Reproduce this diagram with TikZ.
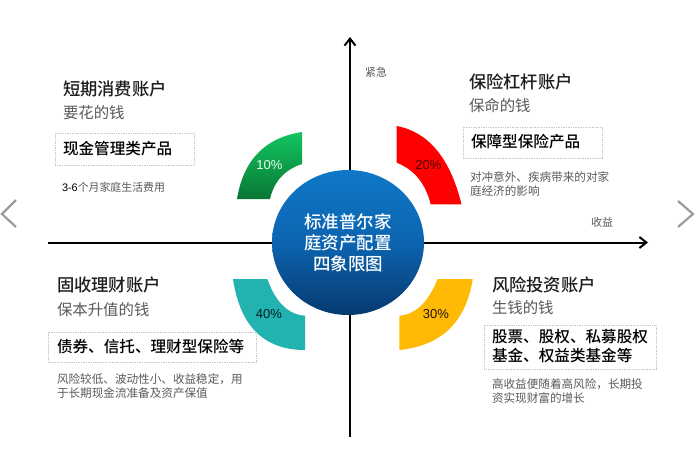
\documentclass[tikz,border=0pt]{standalone}
\usepackage{fontspec}
\setmainfont{Noto Sans CJK SC}
\newfontfamily\medf{Noto Sans CJK SC Medium}
\newfontfamily\latinf{Liberation Sans}
\usetikzlibrary{shapes.geometric,arrows.meta}
\newcommand{\fwcomma}{\char"FF0C\relax}
\definecolor{titlec}{HTML}{1E1E1E}
\definecolor{subc}{HTML}{595959}
\definecolor{smallc}{HTML}{5A5A5A}
\definecolor{boxc}{HTML}{C4C8CC}
\definecolor{chev}{HTML}{9A9AA2}
\tikzset{
  x=1pt,y=1pt,
  txt/.style={anchor=west,inner sep=0pt,outer sep=0pt},
  acct/.style={txt,text=titlec,font=\medf\fontsize{17.3}{20}\selectfont},
  subt/.style={txt,text=subc,font=\fontsize{15.4}{18}\selectfont},
  prod/.style={txt,text=black,font=\medf\fontsize{15.6}{19}\selectfont,align=left},
  note/.style={txt,text=smallc,font=\fontsize{11.6}{14}\selectfont,align=left},
  axlabel/.style={inner sep=0pt,text=smallc,font=\fontsize{11}{13}\selectfont},
  pct/.style={inner sep=0pt,font=\latinf\fontsize{13}{15}\selectfont},
  pbox/.style={draw=boxc,densely dotted,line width=.7pt,fill=white},
  axisl/.style={draw=black,line width=2pt,-{Straight Barb[length=7pt,width=11pt,line width=2pt]}},
  chevl/.style={draw=chev,line width=2.2pt}
}
\begin{document}
\begin{tikzpicture}
\useasboundingbox (0,-453) rectangle (700,0);
\fill[white] (0,-453) rectangle (700,0);
% axes
\coordinate (vs) at (350,-437);
\coordinate (ve) at (350,-37);
\coordinate (hs) at (48,-242.5);
\coordinate (he) at (648,-242.5);
\draw[axisl] (vs) -- (ve);
\draw[axisl] (hs) -- (he);
\node[axlabel] (urgent) at (376,-72) {紧急};
\node[axlabel] (income) at (602,-222) {收益};
% centre
\node[ellipse,minimum width=152pt,minimum height=145pt,inner sep=0pt,
      top color={rgb,255:red,14;green,120;blue,200},bottom color={rgb,255:red,6;green,58;blue,112},
      middle color={rgb,255:red,12;green,100;blue,176},
      text=white,align=center,font=\medf\fontsize{17.5}{21}\selectfont] (core) at (348,-242.5)
      {标准普尔家\\庭资产配置\\四象限图};
% sectors
\shade[top color={rgb,255:red,18;green,198;blue,96},bottom color={rgb,255:red,9;green,118;blue,52}]
  (237,-199) .. controls (243.3,-160) and (265,-137.7) .. (302,-132)
  -- (302,-164) .. controls (284.7,-169.7) and (274,-181.3) .. (270,-199) -- cycle;
\fill[red] (396.7,-126) .. controls (428.5,-132) and (450.1,-158.1) .. (461.5,-204.3)
  -- (430.7,-204.3) .. controls (425.5,-183.4) and (414.2,-169.6) .. (396.7,-162.7) -- cycle;
\fill[fill={rgb,255:red,34;green,178;blue,176}] (233,-279) .. controls (240.1,-326.3) and (264.1,-350) .. (305,-350)
  -- (305,-315.7) .. controls (288.2,-314.6) and (275.6,-302.3) .. (267.3,-279) -- cycle;
\fill[fill={rgb,255:red,255;green,186;blue,5}] (472.7,-279) .. controls (466,-322) and (441.5,-345.7) .. (399.3,-350)
  -- (399.3,-315.7) .. controls (415.4,-314.6) and (428.2,-302.3) .. (437.7,-279) -- cycle;
\node[pct,text=white!92!green] (p10) at (269.5,-165.5) {10\%};
\node[pct,text=black!70!red] (p20) at (428.5,-165) {20\%};
\node[pct,text=black!75!teal] (p40) at (269,-314.5) {40\%};
\node[pct,text=black!85!orange] (p30) at (436,-314.5) {30\%};
% top left
\node[acct] (a1) at (63,-89) {短期消费账户};
\node[subt] (s1) at (63,-113) {要花的钱};
\draw[pbox] (55,-133) rectangle (194,-165);
\node[prod] (b1) at (63,-149) {现金管理类产品};
\node[note,font=\fontsize{10.9}{14}\selectfont] (n1) at (62,-187) {\textcolor{black}{\latinf 3-6}个月家庭生活费用};
% top right
\node[acct] (a2) at (469,-82) {保险杠杆账户};
\node[subt] (s2) at (469,-106) {保命的钱};
\draw[pbox] (463,-127) rectangle (602,-158);
\node[prod] (b2) at (471,-142) {保障型保险产品};
\node[note] (n2) at (470,-184) {对冲意外、疾病带来的对家\\庭经济的影响};
% bottom left
\node[acct] (a3) at (57,-285) {固收理财账户};
\node[subt] (s3) at (57,-310) {保本升值的钱};
\draw[pbox] (48,-332) rectangle (256,-362);
\node[prod] (b3) at (57,-347) {债券、信托、理财型保险等};
\node[note] (n3) at (57,-386) {风险较低、波动性小、收益稳定\fwcomma 用\\于长期现金流准备及资产保值};
% bottom right
\node[acct] (a4) at (492,-285) {风险投资账户};
\node[subt] (s4) at (492,-308) {生钱的钱};
\draw[pbox] (484,-325) rectangle (656,-369);
\node[prod] (b4) at (492,-346.5) {股票、股权、私募股权\\基金、权益类基金等};
\node[note] (n4) at (492,-391) {高收益便随着高风险\fwcomma 长期投\\资实现财富的增长};
% chevrons
\draw[chevl] (16,-200) -- (2,-214) -- (16,-227);
\draw[chevl] (678,-201) -- (693,-214) -- (678,-227);
\end{tikzpicture}
\end{document}
